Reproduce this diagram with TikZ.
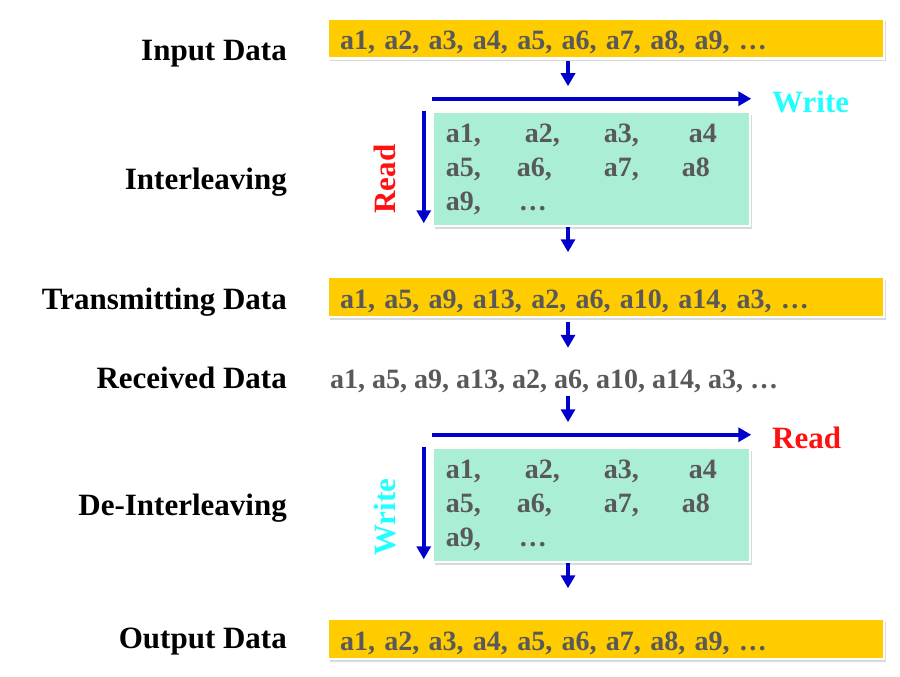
\documentclass[tikz,border=0pt]{standalone}
\usepackage{fontspec}
\setmainfont{Liberation Serif}
\usetikzlibrary{arrows.meta,calc,shadows}
\definecolor{barfill}{HTML}{FFCC00}
\definecolor{gridfill}{HTML}{AAEED5}
\definecolor{seqgray}{HTML}{595959}
\definecolor{flowblue}{HTML}{0000CC}
\definecolor{wrcyan}{HTML}{22FFFF}
\definecolor{rdred}{HTML}{FF1111}

\begin{document}
\begin{tikzpicture}[x=1pt,y=-1pt,>={Triangle[length=13pt,width=14pt]}]
	\tikzstyle{lbl}=[font=\fontsize{31}{34}\selectfont\bfseries, anchor=base east, inner sep=0pt]
	\tikzstyle{seq}=[font=\fontsize{28}{32}\selectfont\bfseries, text=seqgray]
	\tikzstyle{soft}=[drop shadow={shadow xshift=1.5pt, shadow yshift=-2.5pt, opacity=.3}]
	\tikzstyle{bar}=[seq, soft, draw=white, line width=2.5pt, fill=barfill, minimum height=40pt, inner ysep=0pt,
		text height=28pt, text depth=6pt, text width=532pt, inner xsep=12pt, align=left]
	\tikzstyle{grid}=[soft, draw=white, line width=2.5pt, fill=gridfill, minimum width=317pt, minimum height=114pt]
	\tikzstyle{flow}=[->, draw=flowblue, line width=4pt]
	\tikzstyle{dir}=[font=\fontsize{31}{34}\selectfont\bfseries, inner sep=0pt]

	\newcommand{\gridcells}[2]{
		\foreach \dx/\dy/\t [count=\i] in {14/32/{a1,},93/32/{a2,},172/32/{a3,},257/32/{a4},
			14/66/{a5,},85/66/{a6,},172/66/{a7,},250/66/{a8},14/100/{a9,},87/100/{…}}
			\node[seq, anchor=base west, inner sep=0pt] (#1\i) at ($(#2.north west)+(\dx,\dy)$) {\t};
	}

	\useasboundingbox (0,0) rectangle (900,677);
	\coordinate (arrx) at (568,0);

	% labels on the left
	\node[lbl] (lin) at (287,61) {Input Data};
	\node[lbl] (lilv) at (287,189) {Interleaving};
	\node[lbl] (lts) at (287,309) {Transmitting Data};
	\node[lbl] (lrx) at (287,388) {Received Data};
	\node[lbl] (ldil) at (287,515) {De-Interleaving};
	\node[lbl] (lout) at (287,648) {Output Data};

	% data bars
	\node[bar] (inbar) at (606,38.5) {a1, a2, a3, a4, a5, a6, a7, a8, a9, …};
	\node[bar] (tsbar) at (606,297) {a1, a5, a9, a13, a2, a6, a10, a14, a3, …};
	\node[seq, anchor=base west, inner sep=0pt, text height=20pt, text depth=6pt] (rx) at (330,388) {a1, a5, a9, a13, a2, a6, a10, a14, a3, …};
	\node[bar] (outbar) at (606,639) {a1, a2, a3, a4, a5, a6, a7, a8, a9, …};

	% interleaver
	\node[grid] (ilvbox) at (591.5,169) {};
	\gridcells{ic}{ilvbox}
	\draw[flow] ($(ilvbox.north west)+(0,-12)$) coordinate (iw0) -- ($(ilvbox.north east)+(0,-12)$) coordinate (iw1);
	\draw[flow] ($(ilvbox.north west)+(-8,0)$) coordinate (ir0) -- ($(ilvbox.south west)+(-8,-4)$) coordinate (ir1);
	\node[dir, text=wrcyan, anchor=west] (iwr) at (772,102) {Write};
	\node[dir, text=rdred, rotate=90] (ird) at (385,179) {Read};

	% de-interleaver
	\node[grid] (dilbox) at (591.5,505) {};
	\gridcells{dc}{dilbox}
	\draw[flow] ($(dilbox.north west)+(0,-12)$) coordinate (dr0) -- ($(dilbox.north east)+(0,-12)$) coordinate (dr1);
	\draw[flow] ($(dilbox.north west)+(-8,0)$) coordinate (dw0) -- ($(dilbox.south west)+(-8,-4)$) coordinate (dw1);
	\node[dir, text=rdred, anchor=west] (drd) at (772,438) {Read};
	\node[dir, text=wrcyan, rotate=90] (dwr) at (385,517) {Write};

	% flow between stages
	\draw[flow, shorten <=1.5pt, shorten >=24.5pt] (inbar.south -| arrx) -- (ilvbox.north -| arrx);
	\draw[flow, shorten >=23.5pt] (ilvbox.south -| arrx) -- (tsbar.north -| arrx);
	\draw[flow, shorten <=3.5pt, shorten >=20pt] (tsbar.south -| arrx) -- (rx.north -| arrx);
	\draw[flow, shorten <=2pt, shorten >=24.5pt] (rx.south -| arrx) -- (dilbox.north -| arrx);
	\draw[flow, shorten >=29.5pt] (dilbox.south -| arrx) -- (outbar.north -| arrx);
\end{tikzpicture}
\end{document}
